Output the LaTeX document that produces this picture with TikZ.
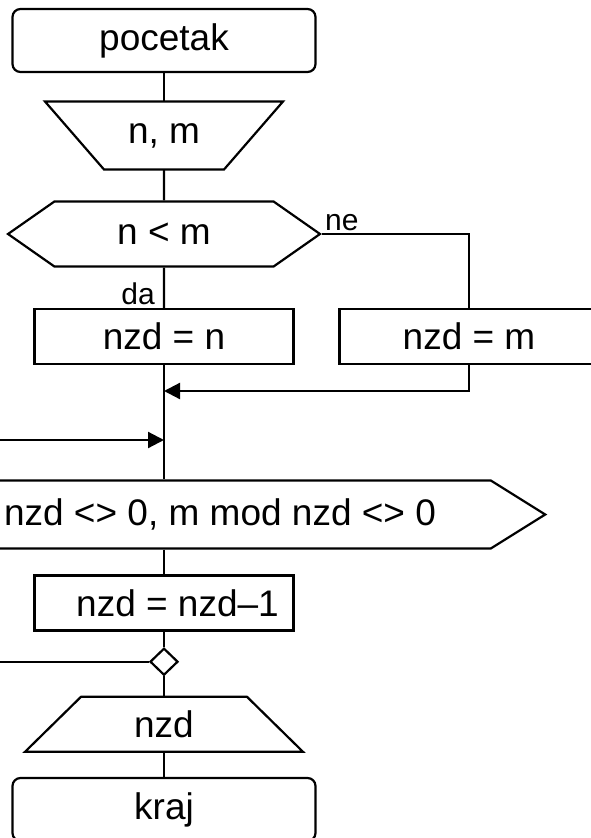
\documentclass[tikz,border=0pt]{standalone}
\usepackage{fontspec}
\setmainfont{Liberation Sans}
\usetikzlibrary{arrows.meta,positioning,shapes.geometric,shapes.symbols}
\definecolor{flowink}{HTML}{000000}
\tikzset{
  flow block/.style={
    draw=flowink, fill=white, line width=2.2pt, inner sep=4pt,
    text=flowink, font=\fontsize{37}{44}\selectfont
  },
  terminal box/.style={
    flow block, rectangle, rounded corners=8pt,
    minimum width=303pt, minimum height=63pt
  },
  process box/.style={
    flow block, rectangle, minimum width=259pt, minimum height=55pt
  },
  % the slanted input/output frames are drawn around these boxes
  io box/.style={
    rectangle, inner sep=4pt, outer sep=0pt,
    text=flowink, font=\fontsize{37}{44}\selectfont
  },
  io frame/.style={draw=flowink, line width=2.2pt, line join=miter},
  decision box/.style={
    flow block, signal, signal to=west and east, signal pointer angle=70,
    minimum width=312pt, minimum height=65pt
  },
  loop box/.style={
    flow block, signal, signal to=east, signal pointer angle=64,
    minimum width=596pt, minimum height=68pt
  },
  merge point/.style={
    draw=flowink, fill=white, line width=2.2pt, diamond, inner sep=0pt,
    minimum width=28pt, minimum height=27pt
  },
  flow line/.style={draw=flowink, line width=2.2pt},
  flow arrow/.style={flow line, -{Triangle[length=16pt,width=16pt]}},
  branch label/.style={
    text=flowink, inner sep=3pt, font=\fontsize{30}{36}\selectfont
  }
}

\begin{document}
\begin{tikzpicture}[x=1pt,y=-1pt]
  \useasboundingbox (0,0) rectangle (590,838);

  % Main column sits at x = 164; the loop head runs past the left edge.
  \node[terminal box] (start) at (164,40.5) {pocetak};
  \node[io box, minimum width=238pt, minimum height=68pt] (readnm) at (164,135.5) {n, m};
  \node[decision box] (cond) at (164,234) {n < m};
  \node[process box] (setn) at (164,336.7) {nzd = n};
  \node[process box] (setm) at (469,336.7) {nzd = m};
  \node[loop box] (loop) at (220,514.5) {nzd <> 0, m mod nzd <> 0};
  \node[process box] (step) at (164,603) {\hspace*{27pt}nzd = nzd–1};
  \node[merge point] (merge) at (164,661.7) {};
  \node[io box, minimum width=278pt, minimum height=55pt] (printnzd) at (164,724.3) {nzd};
  \node[terminal box] (stop) at (164,809.5) {kraj};

  % input narrows downwards, output widens downwards
  \draw[io frame] (readnm.north west) -- (readnm.north east)
    -- ([xshift=-59pt]readnm.south east) -- ([xshift=59pt]readnm.south west) -- cycle;
  \draw[io frame] ([xshift=56pt]printnzd.north west) -- ([xshift=-56pt]printnzd.north east)
    -- (printnzd.south east) -- (printnzd.south west) -- cycle;

  % Junctions on the main line and the loop's way back on the left.
  \coordinate (joinm) at (164,391);
  \coordinate (joinloop) at (164,440);
  \coordinate (backin) at (-4,440);
  \coordinate (backout) at (-4,661.7);

  \draw[flow line] (start) -- (readnm);
  \draw[flow line] (readnm) -- (cond);
  \draw[flow line] (cond) -- (setn);
  \draw[flow line] (cond.east) -| (setm.north);
  \draw[flow arrow] (setm.south) |- (joinm);
  \draw[flow line] (setn.south) -- (setn.south |- loop.north);
  \draw[flow arrow] (backin) -- (joinloop);
  \draw[flow line] (step.north |- loop.south) -- (step);
  \draw[flow line] (step) -- (merge);
  \draw[flow line] (merge) -- (printnzd);
  \draw[flow line] (printnzd) -- (stop);
  \draw[flow line] (merge.west) -- (backout);

  % Branch labels next to the decision exits.
  \node[branch label, anchor=south west] at (cond.east) {ne};
  \node[branch label, above left=0pt and 6pt] at (setn.north) {da};
\end{tikzpicture}
\end{document}
